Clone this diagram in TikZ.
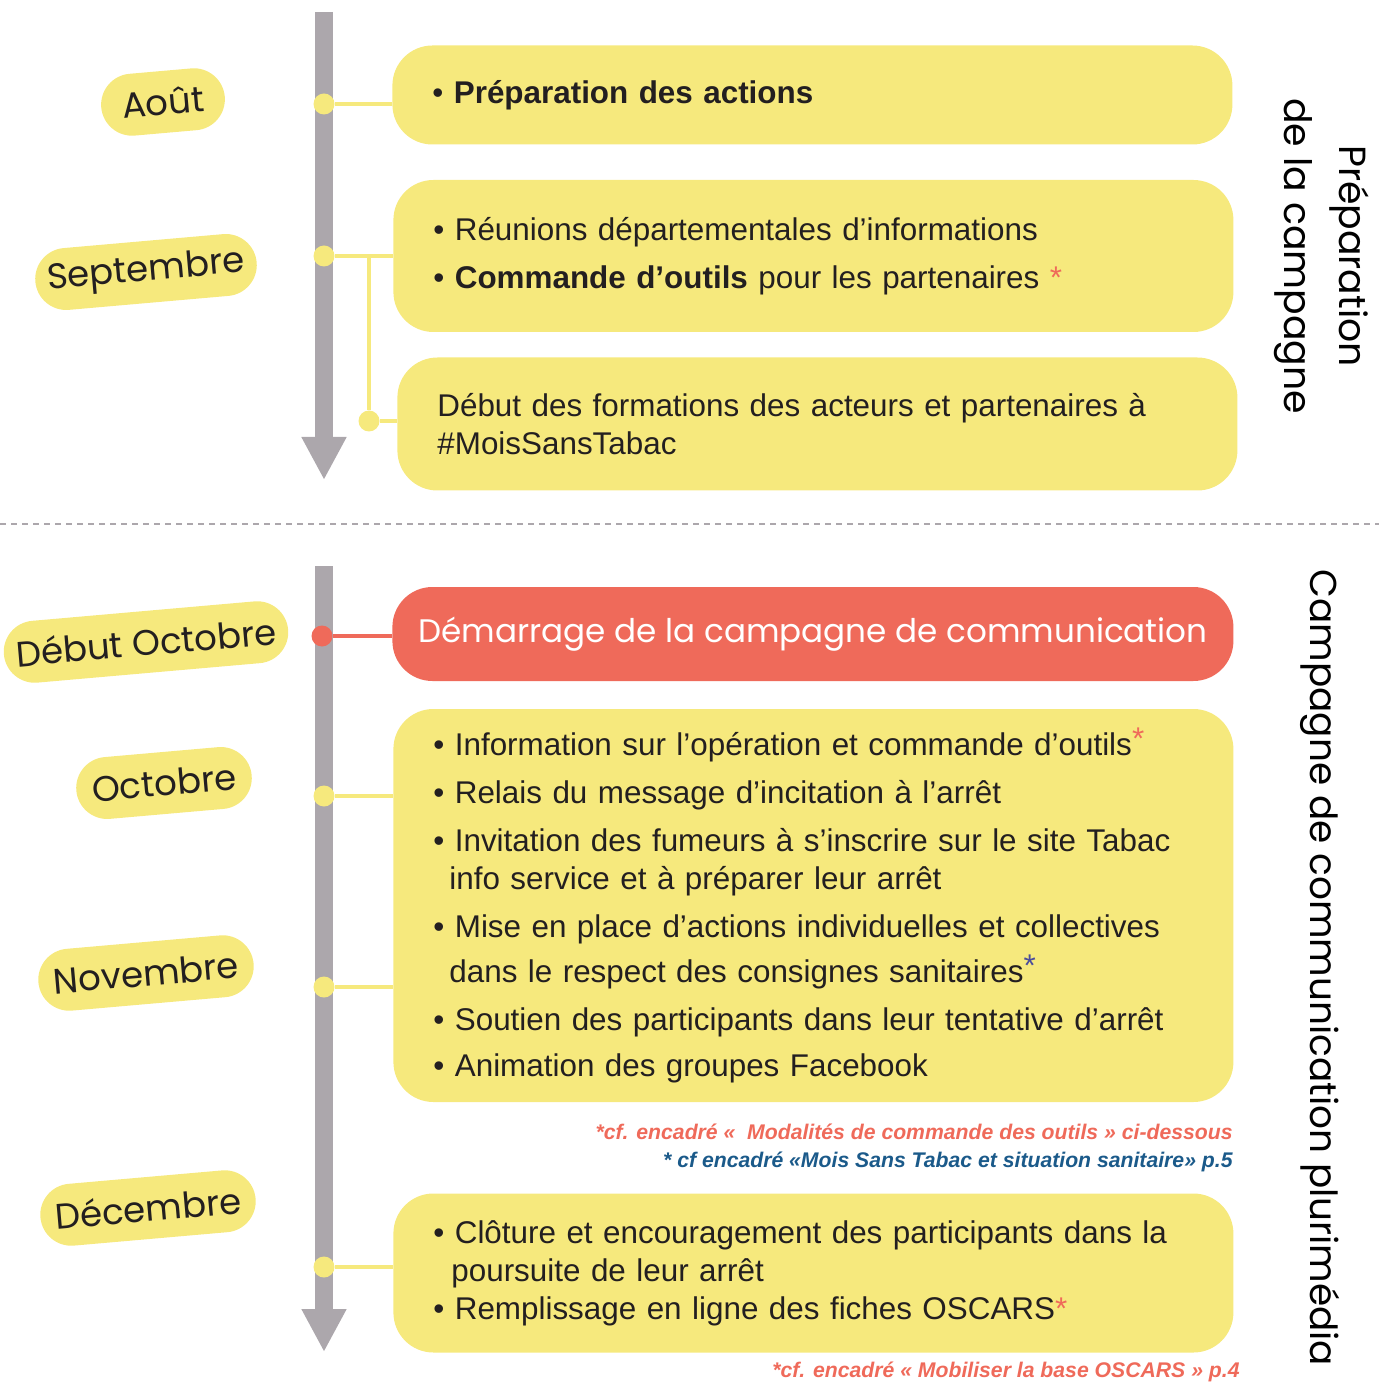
\documentclass[tikz,border=0pt]{standalone}
\usepackage{fontspec}
\setmainfont{Liberation Sans}
\newfontfamily\titre{Poppins}
\usepackage{tikz}
\usetikzlibrary{arrows.meta}

\definecolor{jaune}{HTML}{F6E97D}
\definecolor{rouge}{HTML}{EF6A5A}
\definecolor{gris}{HTML}{ACA7AC}
\definecolor{bleu}{HTML}{1B5A8A}
\definecolor{violet}{HTML}{4B4D9C}
\definecolor{texte}{HTML}{231F20}

\newcommand{\etoile}[1]{\raisebox{3pt}{\textcolor{#1}{*}}}

\begin{document}
\begin{tikzpicture}[x=0.5pt,y=-0.5pt,
  mois/.style={fill=jaune, rounded corners=15.5pt, rotate=5, minimum height=31pt, minimum width=108pt, inner xsep=6pt, text=texte, font=\titre\fontsize{17.8}{22}\selectfont},
  etape/.style={fill=jaune, rounded corners=20pt, anchor=west, inner xsep=20pt, text width=380pt, align=left, text=texte, font=\fontsize{15.7}{19}\selectfont},
  point/.style={circle, fill=jaune, inner sep=0pt, minimum size=10.5pt},
  lien/.style={jaune, line width=2pt},
  axe/.style={gris, line width=9pt, -{Triangle[width=21pt,length=21.5pt]}},
  renvoi/.style={anchor=east, inner sep=0pt, font=\bfseries\itshape\fontsize{10.6}{12}\selectfont}]

\useasboundingbox (0,0) rectangle (1379,1384);

% preparation
\node[etape, minimum height=49.5pt] (b1) at (392,95) {• \textbf{Préparation des actions}};
\node[etape, minimum height=76pt] (b2) at (393,256) {• Réunions départementales d’informations\\[5pt]
 • \textbf{Commande d’outils} pour les partenaires \textcolor{rouge}{*}};
\node[etape, minimum height=66.5pt] (b3) at (397,424) {Début des formations des acteurs et partenaires à\\
 \#MoisSansTabac};

% campagne
\node[fill=rouge, rounded corners=20pt, anchor=west, minimum width=420.5pt, minimum height=47pt, text=white, font=\titre\fontsize{16.3}{20}\selectfont] (b4) at (392,634) {Démarrage de la campagne de communication};
\node[etape, minimum height=196.5pt] (b5) at (393,905.5) {• Information sur l’opération et commande d’outils\etoile{rouge}\\[5pt]
 • Relais du message d’incitation à l’arrêt\\[5pt]
 • Invitation des fumeurs à s’inscrire sur le site Tabac\\
 \hspace*{8pt}info service et à préparer leur arrêt\\[5pt]
 • Mise en place d’actions individuelles et collectives\\[3.5pt]
 \hspace*{8pt}dans le respect des consignes sanitaires\etoile{violet}\\[5pt]
 • Soutien des participants dans leur tentative d’arrêt\\[4pt]
 • Animation des groupes Facebook};
\node[etape, minimum height=79.5pt] (b6) at (393,1273) {• Clôture et encouragement des participants dans la\\
 \hspace*{9pt}poursuite de leur arrêt\\
 • Remplissage en ligne des fiches OSCARS\textcolor{rouge}{*}};

% axes
\coordinate (h1) at (324,12);
\coordinate (f1) at (324,480);
\coordinate (h2) at (324,566);
\coordinate (f2) at (324,1352);
\draw[axe] (h1) -- (f1);
\draw[axe] (h2) -- (f2);

\coordinate (g) at (0,524);
\coordinate (d) at (1379,524);
\draw[gris, line width=0.8pt, dash pattern=on 3pt off 2.5pt] (g) -- (d);

% points
\node[point] (p1) at (324,104) {};
\node[point] (p2) at (324,256) {};
\coordinate (c2) at (369,256);
\node[point] (p3) at (369,421) {};
\node[point, fill=rouge] (p4) at (322,636) {};
\node[point] (p5) at (324,796) {};
\node[point] (p6) at (324,987) {};
\node[point] (p7) at (324,1267) {};

\draw[lien] (p1) -- (p1 -| b1.west);
\draw[lien] (p2) -- (p2 -| b2.west);
\draw[lien] (c2) -- (p3);
\draw[lien] (p3) -- (p3 -| b3.west);
\draw[lien, rouge] (p4) -- (p4 -| b4.west);
\draw[lien] (p5) -- (p5 -| b5.west);
\draw[lien] (p6) -- (p6 -| b5.west);
\draw[lien] (p7) -- (p7 -| b6.west);

% mois
\node[mois, minimum width=62pt] (aout) at (163,102) {Août};
\node[mois] (sept) at (146,272) {Septembre};
\node[mois] (debut) at (146,642) {Début Octobre};
\node[mois, minimum width=88pt] (oct) at (164,783) {Octobre};
\node[mois] (nov) at (146,973) {Novembre};
\node[mois] (dec) at (148,1208) {Décembre};

% titres
\node[rotate=-90, align=center, font=\titre\fontsize{18.9}{27.5}\selectfont] (prep) at (1322,256) {Préparation\\de la campagne};
\node[rotate=-90, font=\titre\fontsize{18.7}{24}\selectfont] (camp) at (1320,968) {Campagne de communication plurimédia};

% renvois
\node[renvoi, text=rouge] (n1) at (1233,1132) {*cf. encadré «~ Modalités de commande des outils » ci-dessous};
\node[renvoi, text=bleu] (n2) at (1233,1162) {* cf encadré «Mois Sans Tabac et situation sanitaire» p.5};
\node[renvoi, text=rouge] (n3) at (1240,1372) {*cf. encadré « Mobiliser la base OSCARS » p.4};
\end{tikzpicture}
\end{document}
